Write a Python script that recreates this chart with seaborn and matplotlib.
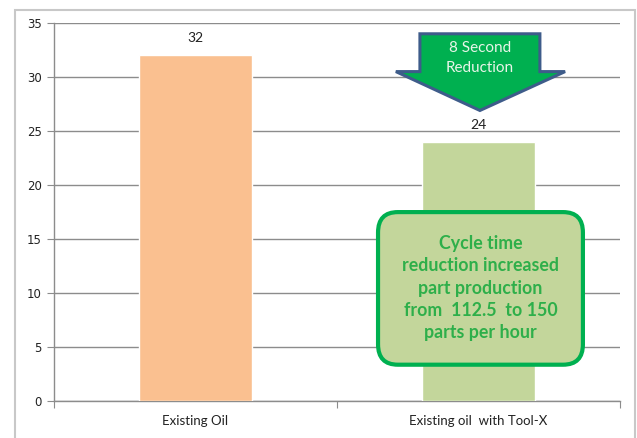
import matplotlib
matplotlib.use("Agg")
import matplotlib.pyplot as plt
import seaborn as sns
import pandas as pd
from matplotlib.patches import Polygon, FancyBboxPatch, Rectangle

# data
categories = ["Existing Oil", "Existing oil  with Tool-X"]
cycle_time = [32, 24]
bar_colors = ["#FAC090", "#C3D69B"]
y_ticks = [0, 5, 10, 15, 20, 25, 30, 35]

arrow_text = "8 Second\nReduction"
box_text = ("Cycle time\nreduction increased\npart production\n"
            "from  112.5  to 150\nparts per hour")

sns.set_style("white")
plt.rcParams["font.family"] = ["Lato", "DejaVu Sans"]

df = pd.DataFrame({"cat": categories, "val": cycle_time})

fig = plt.figure(figsize=(6.37, 4.38), dpi=100)
ax = fig.add_axes([0.0848, 0.0845, 0.8885, 0.863])

sns.barplot(data=df, x="cat", y="val", hue="cat", palette=bar_colors,
            width=0.4, legend=False, ax=ax, saturation=1, zorder=3)

for c in ax.containers:
    ax.bar_label(c, padding=8, fontsize=10, color="#222222")

ax.set_ylim(0, 35)
ax.set_xlim(-0.5, 1.5)
ax.set_yticks(y_ticks)
ax.set_xlabel("")
ax.set_ylabel("")
ax.yaxis.grid(True, color="#8C8C8C", linewidth=1, zorder=0)
ax.set_axisbelow(True)
for s in ["top", "right"]:
    ax.spines[s].set_visible(False)
for s in ["left", "bottom"]:
    ax.spines[s].set_color("#8C8C8C")
    ax.spines[s].set_linewidth(1)

# x ticks at category boundaries, labels centred
ax.set_xticks([-0.5, 0.5, 1.5])
ax.set_xticklabels([])
ax.set_xticks([0, 1], minor=True)
ax.set_xticklabels(categories, minor=True, fontsize=9.5, color="#222222")
ax.tick_params(axis="x", which="major", direction="out", length=5,
               color="#8C8C8C", bottom=True)
ax.tick_params(axis="x", which="minor", length=0, pad=10)
ax.tick_params(axis="y", direction="out", length=5, color="#8C8C8C",
               left=True, labelsize=10, labelcolor="#222222", pad=4)
for t in ax.get_yticklabels():
    t.set_family(["DejaVu Sans"])
    t.set_fontsize(8.5)

# down arrow callout
arrow_pts = [(0.793, 34.0), (1.217, 34.0), (1.217, 30.5), (1.306, 30.5),
             (1.005, 26.9), (0.708, 30.5), (0.793, 30.5)]
ax.add_patch(Polygon(arrow_pts, closed=True, facecolor="#00B050",
                     edgecolor="#3E5C8A", linewidth=2.2, zorder=5,
                     clip_on=False))
ax.text(1.005, 31.75, arrow_text, ha="center", va="center", fontsize=11,
        color="#E8F5E8", linespacing=1.5, zorder=6)

# rounded text box
ax.add_patch(FancyBboxPatch((0.645 + 0.07, 3.35 + 1.9), 0.724 - 0.14,
                            14.15 - 3.8,
                            boxstyle="round,pad=0.07,rounding_size=0.07",
                            mutation_aspect=27, facecolor="#C3D69B",
                            edgecolor="#00B050", linewidth=3, zorder=5))
ax.text(1.007, 10.45, box_text, ha="center", va="center", fontsize=12.8,
        fontweight="bold", color="#2EAF4A", linespacing=1.38, zorder=6)

# outer chart frame
fig.patches.append(Rectangle((15 / 637, -0.01), 620 / 637, 428 / 438 + 0.01,
                             transform=fig.transFigure, fill=False,
                             edgecolor="#C8C8C8", linewidth=1.5))

fig.savefig("out.png", dpi=100)
